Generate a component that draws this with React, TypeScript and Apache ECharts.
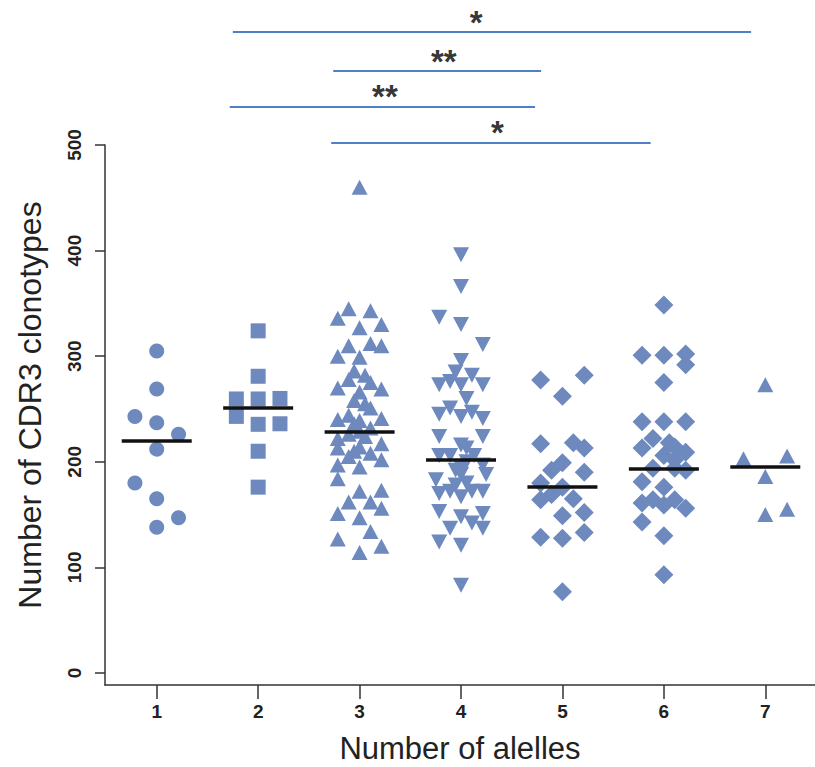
import React, { useEffect, useRef } from 'react';
import * as echarts from 'echarts';

// Groups (number of alleles)
const categories = [1, 2, 3, 4, 5, 6, 7];
const yTickValues = [0, 100, 200, 300, 400, 500];

// Per-group values (CDR3 clonotypes) and their column slot in the dot plot
const g1Values = [305, 269, 243, 237, 226, 212, 180, 165, 147, 138];
const g1Cols = [0, 0, -2, 0, 2, 0, -2, 0, 2, 0];

const g2Values = [324, 281, 259.5, 259.5, 260, 243, 235.5, 236, 210, 176];
const g2Cols = [0, 0, -2, 0, 2, -2, 0, 2, 0, 0];

const g3Values = [460, 345, 343, 336, 327, 330, 310, 312, 310, 300, 299, 286, 282, 278, 275, 270, 269, 266, 258, 255, 251, 244, 240, 239, 241, 236, 232, 229, 226, 224, 222, 217, 214, 213, 210, 208, 205, 202, 197, 195, 184, 173, 172, 162, 162, 156, 151, 147, 134, 127, 120, 114];
const g3Cols = [0, -1, 1, -2, 0, 2, -1, 1, 2, -2, 0, -0.5, 0.5, -1, 1, -2, 2, 0, -0.5, 0.5, 1, -1, -2, 0, 2, -0.5, 1, 0, -1, 0.5, -2, 2, 0, -2, -0.5, 1, -1, 2, -2, 0, -2, 2, 0, -1, 1, 2, -2, 0, 1, -2, 2, 0];

const g4Values = [396, 366, 337, 330, 311, 296, 285, 282, 276, 273, 273, 273, 260, 251, 247, 245, 243, 241, 224, 224, 216, 213, 206, 206, 206, 200, 197, 195, 192, 188, 188, 183, 180, 178, 172, 172, 172, 170, 167, 153, 151, 148, 142, 137, 137, 124, 121, 83];
const g4Cols = [0, 0, -2, 0, 2, 0, -0.5, 1, -1, -2, 0, 2, 0.5, -1, 1, -2, 0, 2, -2, 2, 0, 0.5, -2, -1, 1.2, 0.5, 2, 0, -0.5, 0, 2.3, -2.3, 0.5, -0.5, -1, 1, 2, -2, 0, -2, 2, 0, 1, -1, 2, -2, 0, 0];

const g5Values = [277.5, 282, 262, 217, 218, 213, 199, 192, 190, 180, 176, 169, 164, 165, 149, 152, 128.5, 127.5, 133, 77];
const g5Cols = [-2, 2, 0, -2, 1, 2, 0, -1, 2, -2, 0, -1, -2, 1, 0, 2, -2, 0, 2, 0];

const g6Values = [348.5, 301, 301, 302, 292, 275, 238, 238, 238, 222, 218, 213, 214, 206, 209, 202, 194, 194, 192, 181, 176, 164, 161, 159, 164, 156, 143, 130, 93];
const g6Cols = [0, -2, 0, 2, 2, 0, -2, 0, 2, -1, 0.5, -2, 1, 0, 2, 1, -1, 1, 2, -2, 0, -1, -2, 0, 1, 2, -2, 0, 0];

const g7Values = [273, 203, 205.5, 186, 150, 155];
const g7Cols = [0, -2, 2, 0, 0, 2];

// Median of each group (horizontal bars)
const medians = [219.5, 251.5, 228.5, 202.3, 176.4, 193.8, 195.4];

// Significance comparisons
const sigFrom = [1.75, 2.74, 1.72, 2.72];
const sigTo = [6.86, 4.79, 4.73, 5.87];
const sigLevel = [607, 570, 536, 502];
const sigLabels = ['*', '**', '**', '*'];
const sigLabelX = [4.15, 3.83, 3.25, 4.36];

const groupValues = [g1Values, g2Values, g3Values, g4Values, g5Values, g6Values, g7Values];
const groupCols = [g1Cols, g2Cols, g3Cols, g4Cols, g5Cols, g6Cols, g7Cols];
const groupSymbols = ['circle', 'rect', 'triangle', 'triangle', 'diamond', 'diamond', 'triangle'];
const groupSizes: any[] = [15, 15, [16, 15], [16, 15], [19, 19], [19, 19], [16, 15]];
const groupRotate = [0, 0, 0, 180, 0, 0, 0];

const COL = 0.1075;
const DOT = '#6d89be';
const FONT = '"Liberation Sans", Arial, sans-serif';

export default function App() {
  const ref = useRef<HTMLDivElement>(null);
  useEffect(() => {
    if (!ref.current) return;
    const chart = echarts.init(ref.current, null, { renderer: 'svg' });

    const scatterSeries = categories.map((c, i) => ({
      type: 'scatter',
      symbol: groupSymbols[i],
      symbolSize: groupSizes[i],
      symbolRotate: groupRotate[i],
      itemStyle: { color: DOT, opacity: 1 },
      z: 2,
      data: groupValues[i].map((v, j) => [c + groupCols[i][j] * COL, v]),
    }));

    const medianSeries = {
      type: 'lines',
      coordinateSystem: 'cartesian2d',
      polyline: false,
      z: 5,
      lineStyle: { color: '#111', width: 3.5, opacity: 1 },
      data: categories.map((c, i) => ({ coords: [[c - 0.345, medians[i]], [c + 0.345, medians[i]]] })),
    };

    const sigLineSeries = sigFrom.map((f, i) => ({
      type: 'line',
      clip: false,
      showSymbol: false,
      symbol: 'none',
      silent: true,
      lineStyle: { color: '#4f80c6', width: 2 },
      data: [[f, sigLevel[i]], [sigTo[i], sigLevel[i]]],
    }));

    const sigStarSeries = {
      type: 'scatter',
      clip: false,
      symbol: 'circle',
      symbolSize: 1,
      silent: true,
      z: 10,
      itemStyle: { color: 'rgba(0,0,0,0)' },
      label: {
        show: true,
        position: 'top',
        distance: -7,
        color: '#000',
        fontSize: 33,
        fontWeight: 'bold',
        fontFamily: FONT,
        formatter: (p: any) => sigLabels[p.dataIndex],
      },
      data: sigLabelX.map((x, i) => [x, sigLevel[i]]),
    };

    chart.setOption({
      animation: false,
      grid: { left: 105, right: 0, top: 145, bottom: 82 },
      xAxis: {
        type: 'value',
        min: 0.49,
        max: 7.49,
        splitLine: { show: false },
        axisLine: { show: true, onZero: false, lineStyle: { color: '#333', width: 1.5 } },
        axisTick: { show: true, length: 14, customValues: categories, lineStyle: { color: '#333', width: 1.5 } },
        axisLabel: {
          customValues: categories,
          margin: 17,
          fontSize: 19,
          fontWeight: 'bold',
          color: '#222',
          fontFamily: FONT,
        },
      },
      yAxis: {
        type: 'value',
        min: -11.36,
        max: 500,
        splitLine: { show: false },
        axisLine: { show: true, lineStyle: { color: '#333', width: 1.5 } },
        axisTick: { show: true, length: 10, customValues: yTickValues, lineStyle: { color: '#333', width: 1.5 } },
        axisLabel: {
          customValues: yTickValues,
          rotate: 90,
          margin: 21,
          fontSize: 19,
          fontWeight: 'bold',
          color: '#222',
          fontFamily: FONT,
        },
      },
      graphic: [
        {
          type: 'text',
          x: 30,
          y: 405,
          rotation: Math.PI / 2,
          style: {
            text: 'Number of CDR3 clonotypes',
            fontSize: 32,
            fontFamily: FONT,
            fill: '#222',
            align: 'center',
            verticalAlign: 'middle',
          },
        },
        {
          type: 'text',
          x: 460,
          y: 748,
          style: {
            text: 'Number of alelles',
            fontSize: 31,
            fontFamily: FONT,
            fill: '#222',
            align: 'center',
            verticalAlign: 'middle',
          },
        },
      ],
      series: [...scatterSeries, medianSeries, ...sigLineSeries, sigStarSeries],
    });
    return () => chart.dispose();
  }, []);

  return (
    <div
      ref={ref}
      style={{ position: 'fixed', left: 0, top: 0, width: 815, height: 767, background: '#fff' }}
    />
  );
}
